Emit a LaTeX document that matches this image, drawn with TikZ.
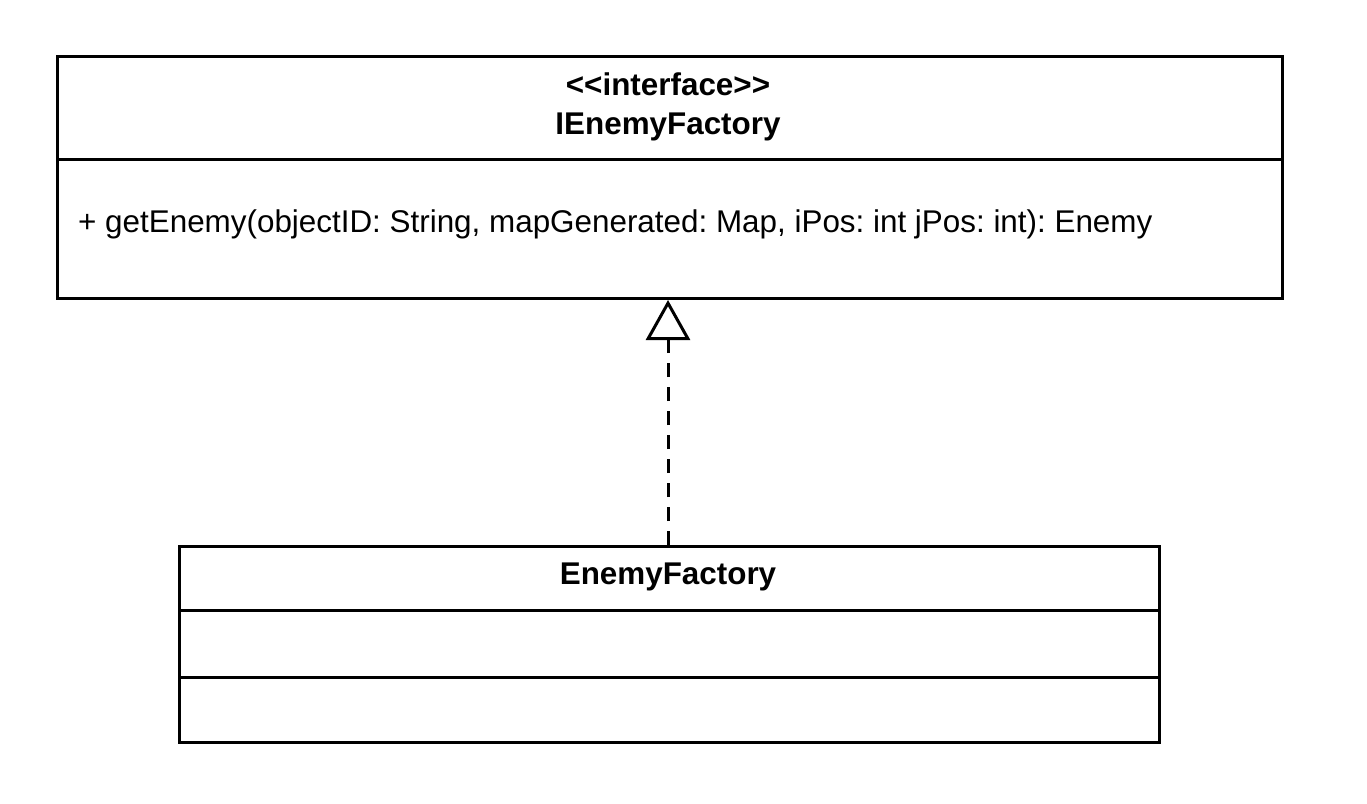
\documentclass[tikz,border=0pt]{standalone}
\usepackage{fontspec}
\setmainfont{Liberation Sans}
\usetikzlibrary{arrows.meta}
\begin{document}
\frenchspacing
\begin{tikzpicture}[x=1pt,y=-1pt,
  box/.style={draw, line width=3pt, rectangle, anchor=north west, inner sep=0pt},
  lbl/.style={font=\fontsize{31.4}{39}\selectfont, inner sep=0pt},
  blbl/.style={font=\fontsize{31.4}{39}\selectfont\bfseries, inner sep=0pt}]
\useasboundingbox (0,0) rectangle (1367,803);
% interface
\node[box, minimum width=1225pt, minimum height=103pt] (ihead) at (56,55) {};
\node[box, minimum width=1225pt, minimum height=139pt] (ibody) at (56,158) {};
\node[blbl, align=center] (ititle) at (668,107) {{<}{<}interface{>}{>}\\IEnemyFactory};
\node[lbl, anchor=west] (imeth) at (78,224) {+ getEnemy(objectID: String, mapGenerated: Map, iPos: int jPos: int): Enemy};
% class
\node[box, minimum width=980pt, minimum height=64pt] (chead) at (178,545) {};
\node[box, minimum width=980pt, minimum height=67pt] (cattr) at (178,609) {};
\node[box, minimum width=980pt, minimum height=65pt] (cops) at (178,676) {};
\node[blbl] (ctitle) at (668,577) {EnemyFactory};
% realization
\draw[line width=3pt, dash pattern=on 14pt off 10pt, -{Triangle[open, length=40pt, width=44pt, line width=3pt]}]
  (chead.north -| 668,0) -- (ibody.south -| 668,0);
\end{tikzpicture}
\end{document}
